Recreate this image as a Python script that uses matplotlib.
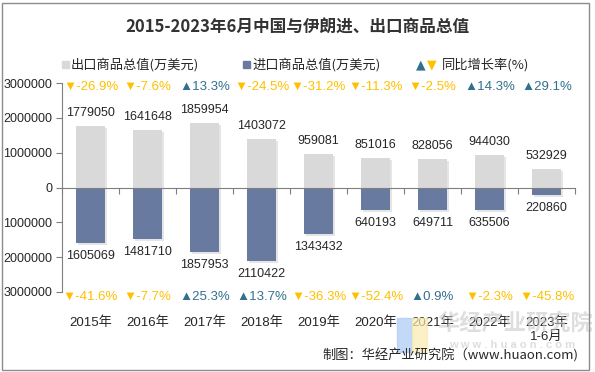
import matplotlib
matplotlib.use("Agg")
import matplotlib.pyplot as plt
import matplotlib.patheffects as pe
from matplotlib.patches import Rectangle
from matplotlib.ticker import FuncFormatter
import numpy as np

plt.rcParams['font.family'] = ['Liberation Sans', 'Noto Sans CJK SC', 'DejaVu Sans']

years = ["2015年", "2016年", "2017年", "2018年", "2019年", "2020年", "2021年", "2022年", "2023年\n1-6月"]
exports = [1779050, 1641648, 1859954, 1403072, 959081, 851016, 828056, 944030, 532929]
imports = [1605069, 1481710, 1857953, 2110422, 1343432, 640193, 649711, 635506, 220860]
exp_growth = [-26.9, -7.6, 13.3, -24.5, -31.2, -11.3, -2.5, 14.3, 29.1]
imp_growth = [-41.6, -7.7, 25.3, 13.7, -36.3, -52.4, 0.9, -2.3, -45.8]

C_EXP = "#D9D9D9"
C_IMP = "#687A9F"
C_UP = "#31708F"
C_DN = "#FFC000"
TXT = "#262626"

fig = plt.figure(figsize=(5.95, 3.72), dpi=100)
ax = fig.add_axes([62/595, 1-292/372, 513/595, 209/372])

x = np.arange(len(years))
shadow = [pe.SimplePatchShadow(offset=(1.5, -1.5), shadow_rgbFace="#999999", alpha=0.25), pe.Normal()]
b1 = ax.bar(x, exports, width=0.52, color=C_EXP, zorder=2)
b2 = ax.bar(x, [-v for v in imports], width=0.52, color=C_IMP, zorder=2)
for p in list(b1) + list(b2):
    p.set_path_effects(shadow)

ax.set_xlim(-0.5, len(years) - 0.5)
ax.set_ylim(-3000000, 3000000)
ax.set_yticks(np.arange(-3000000, 3000001, 1000000))
ax.yaxis.set_major_formatter(FuncFormatter(lambda v, p: f"{abs(int(round(v)))}"))
ax.tick_params(axis='y', direction='out', length=4, color="#7F7F7F", labelsize=9, labelcolor=TXT, pad=3)

ax.spines['top'].set_visible(False)
ax.spines['right'].set_visible(False)
ax.spines['left'].set_color("#7F7F7F")
ax.spines['bottom'].set_position(('data', 0))
ax.spines['bottom'].set_color("#7F7F7F")
ax.set_xticks(np.arange(-0.5, len(years), 1))
ax.set_xticklabels([])
ax.tick_params(axis='x', direction='out', length=4, color="#7F7F7F")

for i in range(len(years)):
    ax.annotate(f"{exports[i]}", (x[i], exports[i]), xytext=(0, 5), textcoords='offset points',
                ha='center', va='bottom', fontsize=9, color=TXT)
    ax.annotate(f"{imports[i]}", (x[i], -imports[i]), xytext=(0, -5), textcoords='offset points',
                ha='center', va='top', fontsize=9, color=TXT)
    g = exp_growth[i]
    s = f"▲{g}%" if g >= 0 else f"▼{g}%"
    ax.text(x[i], 2880000, s, ha='center', va='center', fontsize=9.5,
            color=C_UP if g >= 0 else C_DN, clip_on=False)
    g = imp_growth[i]
    s = f"▲{g}%" if g >= 0 else f"▼{g}%"
    ax.text(x[i], -3130000, s, ha='center', va='center', fontsize=9.5,
            color=C_UP if g >= 0 else C_DN, clip_on=False)
    ax.text(x[i], -0.115, years[i], transform=ax.get_xaxis_transform(), ha='center', va='top',
            fontsize=9.5, color=TXT, linespacing=1.3, clip_on=False, zorder=3)

# title
fig.text(297/595, 1-28/372, "2015-2023年6月中国与伊朗进、出口商品总值", ha='center', va='center',
         fontsize=12, fontweight='bold', color="#333333", family=['Noto Sans CJK SC'])

# legend
ly = 1 - 64.5/372
fig.patches.append(Rectangle((62/595, ly - 3.5/372), 7/595, 7/372, transform=fig.transFigure,
                             color=C_EXP, figure=fig))
fig.text(71/595, ly, "出口商品总值(万美元)", ha='left', va='center', fontsize=9.5, color=TXT,
         family=['Noto Sans CJK SC'])
fig.patches.append(Rectangle((243/595, ly - 3.5/372), 7/595, 7/372, transform=fig.transFigure,
                             color=C_IMP, figure=fig))
fig.text(252/595, ly, "进口商品总值(万美元)", ha='left', va='center', fontsize=9.5, color=TXT,
         family=['Noto Sans CJK SC'])
fig.text(416/595, ly, "▲", ha='left', va='center', fontsize=9, color=C_UP, family=['DejaVu Sans'])
fig.text(427/595, ly, "▼", ha='left', va='center', fontsize=9, color=C_DN, family=['DejaVu Sans'])
fig.text(442/595, ly, "同比增长率(%)", ha='left', va='center', fontsize=9.5, color=TXT,
         family=['Noto Sans CJK SC'])

# watermark
fig.patches.append(Rectangle((397/595, 1-352/372), 15/595, 34/372, transform=fig.transFigure,
                             color="#A9CBF5", alpha=0.7, figure=fig, zorder=0))
fig.patches.append(Rectangle((412/595, 1-352/372), 15/595, 34/372, transform=fig.transFigure,
                             color="#FCEBB0", alpha=0.7, figure=fig, zorder=0))
fig.text(515/595, 1-323/372, "华经产业研究院", ha='center', va='center', fontsize=16,
         fontweight='bold', color="#C8C8C8", alpha=0.6, family=['Noto Sans CJK SC'], zorder=0)
fig.text(512/595, 1-345/372, "w w w . h u a o n . c o m", ha='center', va='center', fontsize=8,
         fontweight='bold', color="#C8C8C8", alpha=0.6, zorder=0)

# source
fig.text(578/595, 1-355/372, "制图：华经产业研究院（www.huaon.com)", ha='right', va='center',
         fontsize=9.5, color=TXT, family=['Noto Sans CJK SC', 'Liberation Sans'])

# frame
fig.patches.append(Rectangle((2/595, 2/372), 587/595, 367/372, transform=fig.transFigure,
                             fill=False, edgecolor="#8C8C8C", linewidth=1, figure=fig))

fig.savefig("out.png", dpi=100)
